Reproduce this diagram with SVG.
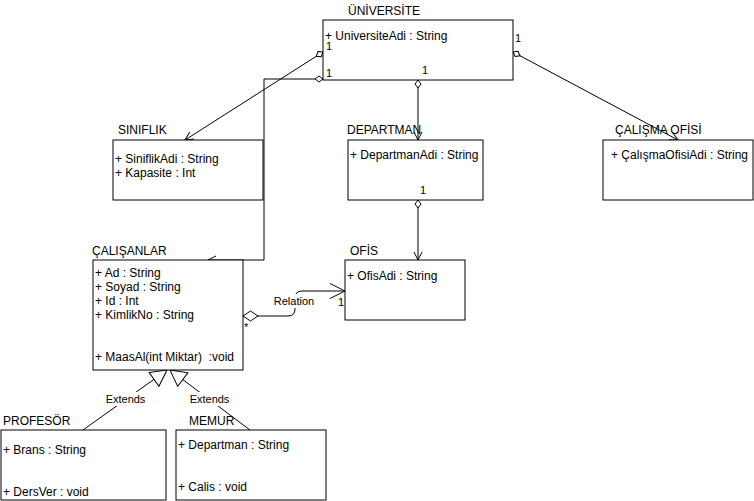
<svg xmlns="http://www.w3.org/2000/svg" width="754" height="501" viewBox="0 0 754 501">
<defs>
<style>
.box{fill:#fff;stroke:#000;stroke-width:1}
.t{font-family:"Liberation Sans",Arial,sans-serif;font-size:12px;fill:#000;white-space:pre}
.s{font-family:"Liberation Sans",Arial,sans-serif;font-size:11px;fill:#000}
.e{fill:none;stroke:#000;stroke-width:1}
.lbg{fill:#fff;stroke:none}
</style>
<marker id="openS" markerUnits="userSpaceOnUse" markerWidth="10" markerHeight="10" refX="8" refY="4" orient="auto" overflow="visible"><path d="M0,0 L8,4 L0,8" fill="none" stroke="#000" stroke-width="1"/></marker>
<marker id="openL" markerUnits="userSpaceOnUse" markerWidth="16" markerHeight="16" refX="15" refY="7.5" orient="auto" overflow="visible"><path d="M0,0 L15,7.5 L0,15" fill="none" stroke="#000" stroke-width="1"/></marker>
<marker id="diaS" markerUnits="userSpaceOnUse" markerWidth="10" markerHeight="8" refX="0" refY="3" orient="auto" overflow="visible"><path d="M0,3 L4,0 L8,3 L4,6 Z" fill="#fff" stroke="#000" stroke-width="1"/></marker>
<marker id="diaL" markerUnits="userSpaceOnUse" markerWidth="16" markerHeight="12" refX="0" refY="5" orient="auto" overflow="visible"><path d="M0,5 L7.5,0 L15,5 L7.5,10 Z" fill="#fff" stroke="#000" stroke-width="1"/></marker>
<marker id="tri" markerUnits="userSpaceOnUse" markerWidth="18" markerHeight="18" refX="16" refY="8.5" orient="auto" overflow="visible"><path d="M0,0 L16,8.5 L0,17 Z" fill="#fff" stroke="#000" stroke-width="1"/></marker>
</defs>
<rect width="754" height="501" fill="#fff"/>

<g id="connectors">
<path class="e" d="M323,52 L185,140" marker-start="url(#diaS)" marker-end="url(#openS)"/>
<path class="e" d="M323,79 H264 V260 H208" marker-start="url(#diaS)" marker-end="url(#openS)"/>
<path class="e" d="M418,80 V140" marker-start="url(#diaS)" marker-end="url(#openS)"/>
<path class="e" d="M513,52 L678,140" marker-start="url(#diaS)" marker-end="url(#openS)"/>
<path class="e" d="M418,200 V260" marker-start="url(#diaS)" marker-end="url(#openS)"/>
<path class="e" d="M243,316 H288 Q295,316 295,309 V298 Q295,291 302,291 H345" marker-start="url(#diaL)" marker-end="url(#openL)"/>
<path class="e" d="M83,430 L167,370" marker-end="url(#tri)"/>
<path class="e" d="M250,430 L170,370" marker-end="url(#tri)"/>
<rect class="lbg" x="274" y="294" width="41" height="14"/>
<text class="s" x="294" y="305" text-anchor="middle">Relation</text>
<text class="s" x="244" y="331">*</text>
<text class="s" x="338" y="306">1</text>
<rect class="lbg" x="105" y="392" width="41" height="14"/>
<text class="s" x="125.5" y="403" text-anchor="middle">Extends</text>
<rect class="lbg" x="189" y="392" width="41" height="14"/>
<text class="s" x="209.5" y="403" text-anchor="middle">Extends</text>
<text class="s" x="515" y="42">1</text>
</g>

<g id="universite">
<text class="t" x="348" y="15">ÜNİVERSİTE</text>
<rect class="box" x="323" y="20" width="190" height="60"/>
<text class="t" x="325" y="40">+ UniversiteAdi : String</text>
</g>

<g id="siniflik">
<text class="t" x="118" y="134">SINIFLIK</text>
<rect class="box" x="113" y="140" width="150" height="60"/>
<text class="t" x="115" y="163">+ SiniflikAdi : String</text>
<text class="t" x="115" y="177">+ Kapasite : Int</text>
</g>

<g id="departman">
<rect class="box" x="348" y="140" width="135" height="60"/>
<text class="t" x="350" y="159">+ DepartmanAdi : String</text>
</g>

<g id="calisma-ofisi">
<text class="t" x="615" y="134">ÇALIŞMA OFİSİ</text>
<rect class="box" x="603" y="140" width="150" height="60"/>
<text class="t" x="611" y="159">+ ÇalışmaOfisiAdi : String</text>
</g>

<g id="calisanlar">
<text class="t" x="92" y="255">ÇALIŞANLAR</text>
<rect class="box" x="93" y="260" width="150" height="110"/>
<text class="t" x="95" y="277">+ Ad : String</text>
<text class="t" x="95" y="291">+ Soyad : String</text>
<text class="t" x="95" y="305">+ Id : Int</text>
<text class="t" x="95" y="319">+ KimlikNo : String</text>
<text class="t" x="95" y="361" xml:space="preserve">+ MaasAl(int Miktar)  :void</text>
</g>

<g id="ofis">
<text class="t" x="350" y="255">OFİS</text>
<rect class="box" x="345" y="260" width="120" height="60"/>
<text class="t" x="347" y="280">+ OfisAdi : String</text>
</g>

<g id="profesor">
<text class="t" x="3" y="425">PROFESÖR</text>
<rect class="box" x="1" y="430" width="165" height="70"/>
<text class="t" x="3" y="454">+ Brans : String</text>
<text class="t" x="3" y="496">+ DersVer : void</text>
</g>

<g id="memur">
<rect class="box" x="176" y="430" width="150" height="70"/>
<text class="t" x="178" y="449">+ Departman : String</text>
<text class="t" x="178" y="491">+ Calis : void</text>
</g>

<g id="labels-over">
<text class="t" x="347" y="134">DEPARTMAN</text>
<text class="t" x="189" y="425">MEMUR</text>
<text class="s" x="326" y="50">1</text>
<text class="s" x="326" y="77">1</text>
<text class="s" x="422" y="74">1</text>
<text class="s" x="420" y="194">1</text>
</g>
</svg>
